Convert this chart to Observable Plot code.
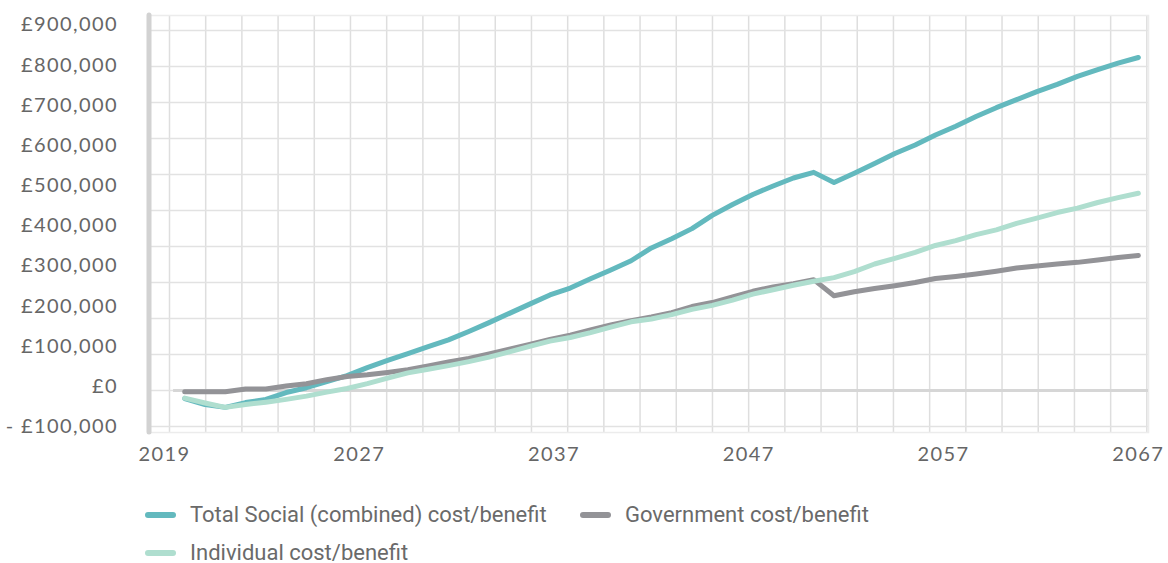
<!DOCTYPE html>
<html>
<head>
<meta charset="utf-8">
<script src="https://cdn.jsdelivr.net/npm/d3@7"></script>
<script src="https://cdn.jsdelivr.net/npm/@observablehq/plot@0.6"></script>
<style>
  body { margin: 0; background: #fff; }
  #chart svg { display: block; }
  g[aria-label="y-axis tick label"] text, g[aria-label="x-axis tick label"] text { letter-spacing: 1.4px; }
  .legend { font-family: Roboto, sans-serif; font-size: 22px; color: #6a6a6a; position: relative; height: 83px; }
  .item { position: absolute; display: flex; align-items: center; white-space: nowrap; }
  .sw { width: 31px; height: 6px; border-radius: 3px; margin-right: 14px; }
</style>
</head>
<body>
<div id="chart"></div>
<div class="legend" id="legend"></div>
<script>
// ---- data ----
const years = d3.range(2020, 2068);
const totalSocial = [-20000, -35000, -42000, -30000, -22000, -5000, 7000, 22000, 37000, 57000,
  75000, 92000, 109000, 126000, 147000, 169000, 192000, 215000, 238000, 255000,
  278000, 300000, 323000, 355000, 378000, 403000, 436000, 463000, 488000, 509000,
  529000, 543000, 518000, 541000, 565000, 590000, 611000, 636000, 658000, 682000,
  704000, 724000, 744000, 762000, 782000, 799000, 815000, 829000];
const government = [-3000, -3000, -3000, 4000, 4000, 11000, 17000, 27000, 35000, 39000,
  45000, 52000, 61000, 71000, 80000, 91000, 103000, 115000, 127000, 138000,
  151000, 163000, 174000, 183000, 194000, 209000, 219000, 233000, 247000, 258000,
  266000, 276000, 236000, 246000, 254000, 261000, 269000, 279000, 284000, 290000,
  297000, 305000, 310000, 315000, 319000, 325000, 331000, 336000];
const individual = [-19000, -31000, -42000, -35000, -29000, -22000, -14000, -4000, 5000, 17000,
  31000, 44000, 53000, 62000, 72000, 83000, 96000, 110000, 123000, 132000,
  144000, 158000, 171000, 178000, 189000, 202000, 212000, 225000, 240000, 251000,
  262000, 272000, 281000, 296000, 315000, 329000, 344000, 361000, 373000, 388000,
  400000, 416000, 429000, 443000, 454000, 468000, 480000, 491000];
const seriesNames = ["Total Social (combined) cost/benefit", "Government cost/benefit", "Individual cost/benefit"];
const xTickLabels = ["2019", "2027", "2037", "2047", "2057", "2067"];
const yTickValues = d3.range(-100000, 900001, 100000);

// ---- styling / layout ----
const seriesColors = ["#63b9be", "#939397", "#afdecf"];
const xDomain = [2018.24, 2067.5];
const yDomain = [-104500, 933500];
const gridStepX = 1.784, gridStartX = 2019.25, gridCountX = 28;
const gridStepY = 89600;

const rows = [];
[totalSocial, government, individual].forEach((arr, s) => {
  years.forEach((yr, i) => rows.push({year: yr, value: arr[i], series: seriesNames[s]}));
});

const first = +xTickLabels[0], last = +xTickLabels[xTickLabels.length - 1];
const xTickValues = xTickLabels.map((_, i) => first + i * (last - first) / (xTickLabels.length - 1));
const xLabelMap = new Map(xTickValues.map((v, i) => [v, xTickLabels[i]]));
const fmt = d3.format(",");
const yFmt = v => v < 0 ? "- £" + fmt(-v) : "£" + fmt(v);

const gridX = d3.range(gridCountX).map(k => gridStartX + k * gridStepX);
const gridY = d3.range(-1, 11).map(k => k * gridStepY);

const chart = Plot.plot({
  width: 1168,
  height: 480,
  marginLeft: 148.5,
  marginRight: 20,
  marginTop: 15,
  marginBottom: 48,
  style: {fontFamily: "Lato, sans-serif", fontSize: "20px", color: "#666", background: "#fff"},
  x: {domain: xDomain},
  y: {domain: yDomain},
  color: {domain: seriesNames, range: seriesColors},
  marks: [
    Plot.ruleX(gridX, {stroke: "#dedede", strokeWidth: 1.5}),
    Plot.ruleY(gridY, {stroke: "#e2e2e2", strokeWidth: 1.5}),
    Plot.frame({stroke: "#ececec", strokeWidth: 1.5}),
    Plot.ruleY([0], {x1: 2019.45, x2: xDomain[1], stroke: "#d6d6d6", strokeWidth: 3}),
    Plot.ruleX([xDomain[0]], {stroke: "#d2d2d2", strokeWidth: 5, strokeLinecap: "round"}),
    Plot.line(rows, {x: "year", y: "value", z: "series", stroke: "series", strokeWidth: 5,
      strokeLinecap: "round", strokeLinejoin: "round"}),
    Plot.axisY(yTickValues, {tickSize: 0, tickPadding: 31, tickFormat: yFmt, dy: -4, fontSize: 20, fill: "#666", label: null}),
    Plot.axisX(xTickValues, {tickSize: 0, tickPadding: 14, tickFormat: d => xLabelMap.get(d), fontSize: 20, fill: "#666", label: null})
  ]
});
document.getElementById("chart").appendChild(chart);

// legend
const legend = document.getElementById("legend");
const legendPos = [[145, 22], [580, 22], [145, 60]];
seriesNames.forEach((name, i) => {
  const it = document.createElement("div");
  it.className = "item";
  it.style.left = legendPos[i][0] + "px";
  it.style.top = legendPos[i][1] + "px";
  const sw = document.createElement("span");
  sw.className = "sw";
  sw.style.background = seriesColors[i];
  const tx = document.createElement("span");
  tx.textContent = name;
  it.appendChild(sw); it.appendChild(tx);
  legend.appendChild(it);
});
</script>
</body>
</html>
